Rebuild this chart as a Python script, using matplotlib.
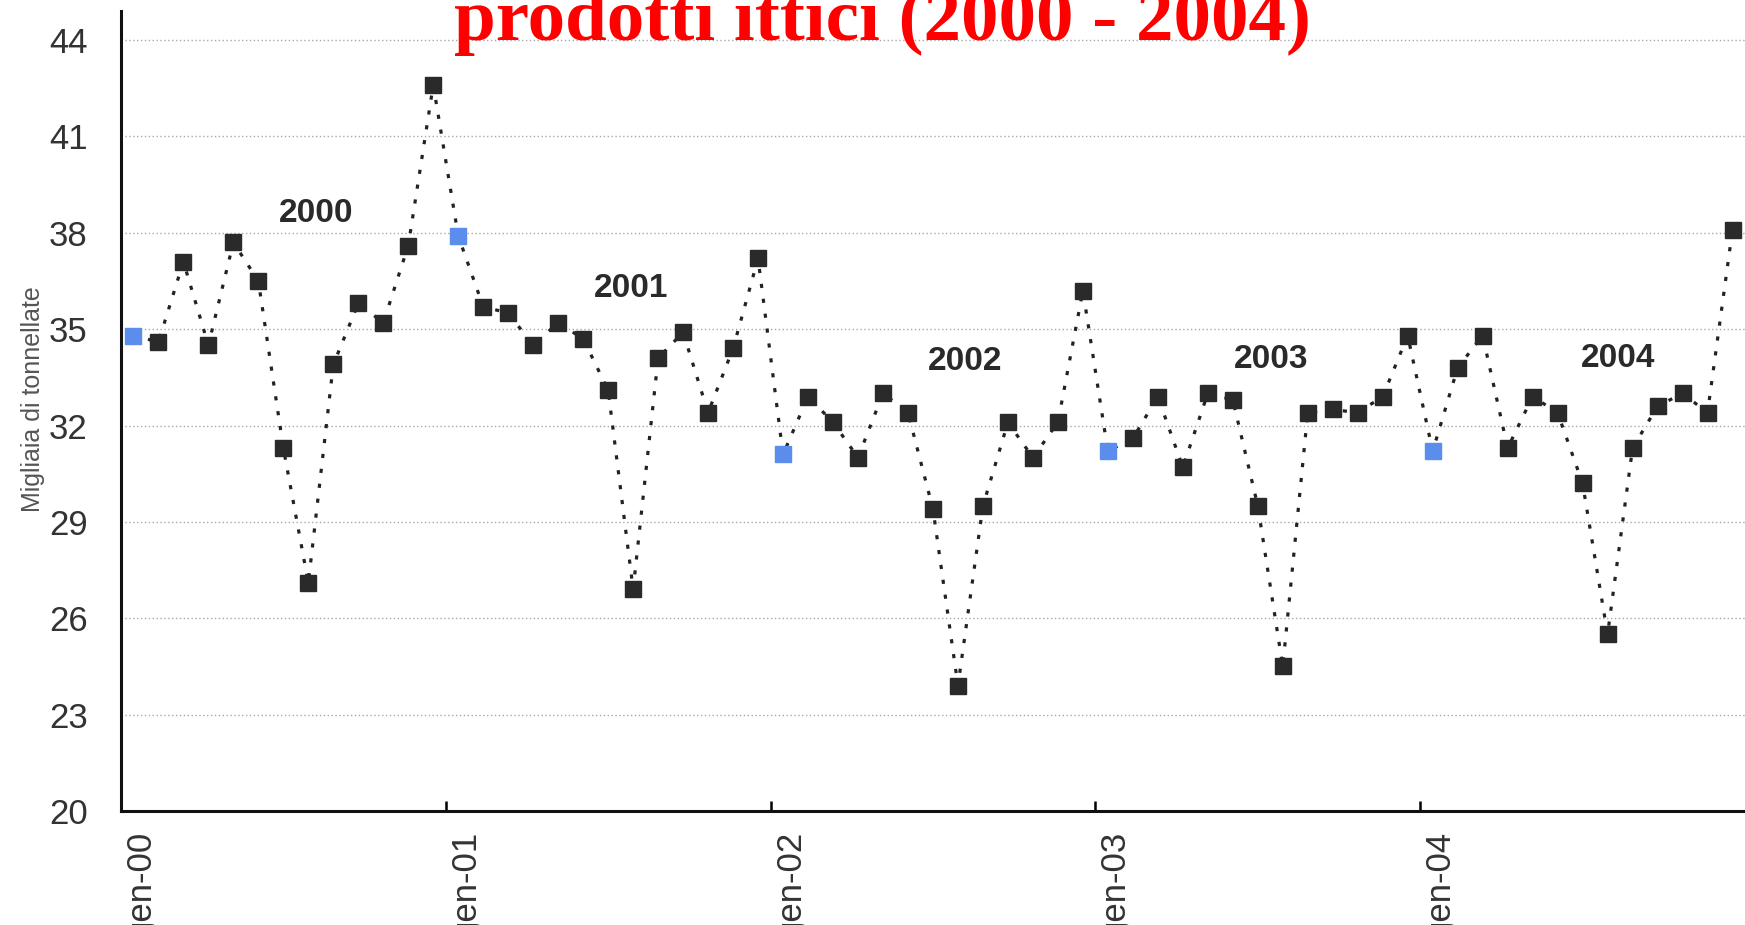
import matplotlib.pyplot as plt
import numpy as np
from matplotlib import font_manager
import matplotlib.transforms as mtransforms

# valori per periodo (13 periodi di 4 settimane per anno)
anni = ["2000", "2001", "2002", "2003", "2004"]
periodi_per_anno = 13
v2000 = [34.8, 34.6, 37.1, 34.5, 37.7, 36.5, 31.3, 27.1, 33.9, 35.8, 35.2, 37.6, 42.6]
v2001 = [37.9, 35.7, 35.5, 34.5, 35.2, 34.7, 33.1, 26.9, 34.1, 34.9, 32.4, 34.4, 37.2]
v2002 = [31.1, 32.9, 32.1, 31.0, 33.0, 32.4, 29.4, 23.9, 29.5, 32.1, 31.0, 32.1, 36.2]
v2003 = [31.2, 31.6, 32.9, 30.7, 33.0, 32.8, 29.5, 24.5, 32.4, 32.5, 32.4, 32.9, 34.8]
v2004 = [31.2, 33.8, 34.8, 31.3, 32.9, 32.4, 30.2, 25.5, 31.3, 32.6, 33.0, 32.4, 38.1]
etichette_x = ["gen-00", "gen-01", "gen-02", "gen-03", "gen-04"]
tick_y = [20, 23, 26, 29, 32, 35, 38, 41, 44]
pos_anni = [(0.60, 38.6), (1.57, 36.25), (2.60, 34.0), (3.54, 34.05), (4.61, 34.1)]

nomi = {f.name for f in font_manager.fontManager.ttflist}
narrow = "Liberation Sans Narrow" if "Liberation Sans Narrow" in nomi else "Liberation Sans"

valori = np.array(v2000 + v2001 + v2002 + v2003 + v2004)
x = np.arange(len(valori))
primi = x[::periodi_per_anno]

fig = plt.figure(figsize=(17.45, 9.25), dpi=100)
ax = fig.add_axes([0.0693, 0.1232, 0.9307, 0.8648])

ax.plot(x, valori, color="#222222", lw=2.3, linestyle=(0, (1.3, 3.4)), zorder=2)
altri = np.setdiff1d(x, primi)
ax.plot(altri, valori[altri], "s", color="#2a2a2a", markersize=12, linestyle="none", zorder=3)
ax.plot(primi, valori[primi], "s", color="#5b8dec", markersize=12, linestyle="none", zorder=3)

ax.set_xlim(-0.5, len(valori) - 0.5)
ax.set_ylim(20, 44.9)

ax.set_yticks(tick_y)
ax.set_yticklabels([str(t) for t in tick_y], fontsize=25, family=narrow, color="#333333")
ax.tick_params(axis="y", length=0, pad=24)

ax.set_xticks(primi - 0.5)
ax.set_xticklabels(etichette_x, rotation=90, va="top", ha="center",
                   fontsize=25, family=narrow, color="#333333")
ax.tick_params(axis="x", direction="in", length=7, width=1.8, pad=14)
sposta = mtransforms.ScaledTranslation(20 / 100, 0, fig.dpi_scale_trans)
for lab in ax.get_xticklabels():
    lab.set_transform(lab.get_transform() + sposta)

for t in tick_y[1:]:
    ax.axhline(t, color="#a8a8a8", lw=1.0, linestyle=(0, (1, 1.8)), zorder=1)

for s in ["top", "right"]:
    ax.spines[s].set_visible(False)
for s in ["left", "bottom"]:
    ax.spines[s].set_linewidth(2.2)
    ax.spines[s].set_color("#111111")

for anno, (px, py) in zip(anni, pos_anni):
    ax.text(px * periodi_per_anno - 0.5, py, anno, fontsize=24, fontweight="bold",
            family=narrow, color="#2a2a2a", ha="center", va="center")

ax.set_ylabel("Migliaia di tonnellate", fontsize=18, color="#555555",
              family="Liberation Sans")
ax.yaxis.set_label_coords(-0.047, 0.515)

fig.text(0.5058, 1 - 40 / 925, "prodotti ittici (2000 - 2004)", color="#ff0000",
         fontsize=54, fontweight="bold", family="Liberation Serif",
         ha="center", va="baseline")

fig.savefig("out.png", dpi=100)
